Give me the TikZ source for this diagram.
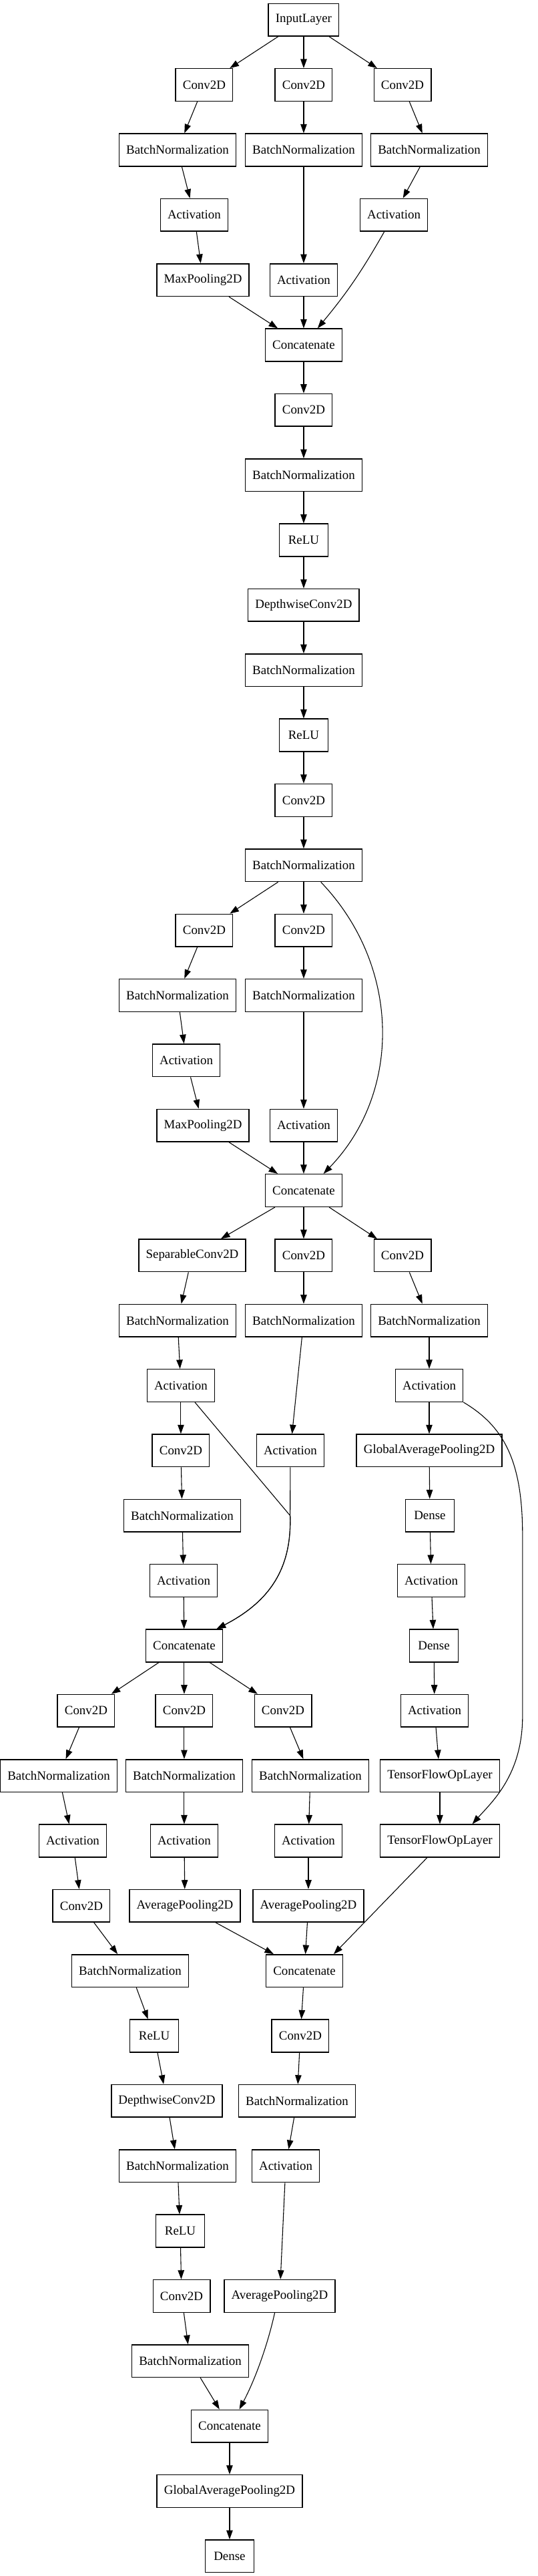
\documentclass[tikz,border=0pt]{standalone}
\usepackage{fontspec}
\setmainfont{Liberation Serif}
\usetikzlibrary{arrows.meta}

\tikzset{
  layer/.style={draw, line width=1.1pt, rectangle, minimum width=54pt, minimum height=36pt,
    inner xsep=7.9pt, inner ysep=0pt, font=\fontsize{14}{16.8}\selectfont},
  flow/.style={-{Triangle[length=10pt,width=7pt]}, line width=0.8pt},
}

\begin{document}
\begin{tikzpicture}[x=1pt,y=-1pt]
  \useasboundingbox (0,0) rectangle (596,2852);
  % stem block
  \node[layer] (inp) at (336.5,22) {InputLayer};
  \node[layer] (c1a) at (226.3,94) {Conv2D};
  \node[layer] (c1b) at (336.5,94) {Conv2D};
  \node[layer] (c1c) at (446,94) {Conv2D};
  \node[layer] (bn2a) at (196.7,166) {BatchNormalization};
  \node[layer] (bn2b) at (336.5,166) {BatchNormalization};
  \node[layer] (bn2c) at (475.6,166) {BatchNormalization};
  \node[layer] (act3a) at (215.2,238) {Activation};
  \node[layer] (act3c) at (436.4,238) {Activation};
  \node[layer] (mp4) at (224.9,310) {MaxPooling2D};
  \node[layer] (act4b) at (336.5,310) {Activation};
  \node[layer] (cat5) at (336.5,382) {Concatenate};
  % single column
  \node[layer] (c6) at (336.5,454) {Conv2D};
  \node[layer] (bn7) at (336.5,526) {BatchNormalization};
  \node[layer] (relu8) at (336.5,598) {ReLU};
  \node[layer] (dw9) at (336.5,670) {DepthwiseConv2D};
  \node[layer] (bn10) at (336.5,742) {BatchNormalization};
  \node[layer] (relu11) at (336.5,814) {ReLU};
  \node[layer] (c12) at (336.5,886) {Conv2D};
  \node[layer] (bn13) at (336.5,958) {BatchNormalization};
  % second block
  \node[layer] (c14a) at (226.3,1030) {Conv2D};
  \node[layer] (c14b) at (336.5,1030) {Conv2D};
  \node[layer] (bn15a) at (196.7,1102) {BatchNormalization};
  \node[layer] (bn15b) at (336.5,1102) {BatchNormalization};
  \node[layer] (act16a) at (206.4,1174) {Activation};
  \node[layer] (mp17) at (224.9,1246) {MaxPooling2D};
  \node[layer] (act17b) at (336.5,1246) {Activation};
  \node[layer] (cat18) at (336.5,1318) {Concatenate};
  % third block
  \node[layer] (sc19) at (213,1390) {SeparableConv2D};
  \node[layer] (c19b) at (336.5,1390) {Conv2D};
  \node[layer] (c19c) at (446,1390) {Conv2D};
  \node[layer] (bn20a) at (196.7,1462) {BatchNormalization};
  \node[layer] (bn20b) at (336.5,1462) {BatchNormalization};
  \node[layer] (bn20c) at (475.6,1462) {BatchNormalization};
  \node[layer] (act21a) at (200.4,1534) {Activation};
  \node[layer] (act21c) at (475.6,1534) {Activation};
  \node[layer] (c22a) at (200.4,1606) {Conv2D};
  \node[layer] (act22b) at (321.7,1606) {Activation};
  \node[layer] (gap22) at (475.6,1606) {GlobalAveragePooling2D};
  \node[layer] (bn23a) at (201.9,1678) {BatchNormalization};
  \node[layer] (d23) at (476.3,1678) {Dense};
  \node[layer] (act24a) at (203.4,1750) {Activation};
  \node[layer] (act24c) at (477.8,1750) {Activation};
  \node[layer] (cat25) at (204.1,1822) {Concatenate};
  \node[layer] (d25) at (480.8,1822) {Dense};
  \coordinate (j25) at (321.5,1678);
  % fourth block
  \node[layer] (c26a) at (95.4,1894) {Conv2D};
  \node[layer] (c26b) at (204.1,1894) {Conv2D};
  \node[layer] (c26c) at (313.6,1894) {Conv2D};
  \node[layer] (act26d) at (481.5,1894) {Activation};
  \node[layer] (bn27a) at (65.1,1966) {BatchNormalization};
  \node[layer] (bn27b) at (204.1,1966) {BatchNormalization};
  \node[layer] (bn27c) at (343.9,1966) {BatchNormalization};
  \node[layer] (tf27) at (487.4,1966) {TensorFlowOpLayer};
  \node[layer] (act28a) at (80.6,2038) {Activation};
  \node[layer] (act28b) at (204.1,2038) {Activation};
  \node[layer] (act28c) at (341.7,2038) {Activation};
  \node[layer] (tf28) at (487.4,2038) {TensorFlowOpLayer};
  \node[layer] (c29a) at (90.2,2110) {Conv2D};
  \node[layer] (ap29b) at (204.9,2110) {AveragePooling2D};
  \node[layer] (ap29c) at (341.7,2110) {AveragePooling2D};
  \node[layer] (bn30a) at (144.2,2182) {BatchNormalization};
  \node[layer] (cat30) at (337.3,2182) {Concatenate};
  \node[layer] (relu31) at (170.9,2254) {ReLU};
  \node[layer] (c31) at (332.8,2254) {Conv2D};
  \node[layer] (dw32) at (184.9,2326) {DepthwiseConv2D};
  \node[layer] (bn32) at (329.1,2326) {BatchNormalization};
  \node[layer] (bn33) at (196.7,2398) {BatchNormalization};
  \node[layer] (act33) at (316.6,2398) {Activation};
  \node[layer] (relu34) at (199.7,2470) {ReLU};
  \node[layer] (c35) at (201.2,2542) {Conv2D};
  \node[layer] (ap35) at (309.9,2542) {AveragePooling2D};
  \node[layer] (bn36) at (210.8,2614) {BatchNormalization};
  % head
  \node[layer] (cat37) at (254.4,2686) {Concatenate};
  \node[layer] (gap38) at (254.4,2758) {GlobalAveragePooling2D};
  \node[layer] (d39) at (254.4,2830) {Dense};

  % edges, stem
  \draw[flow] (inp) -- (c1a);
  \draw[flow] (inp) -- (c1b);
  \draw[flow] (inp) -- (c1c);
  \draw[flow] (c1a) -- (bn2a);
  \draw[flow] (c1b) -- (bn2b);
  \draw[flow] (c1c) -- (bn2c);
  \draw[flow] (bn2a) -- (act3a);
  \draw[flow] (bn2c) -- (act3c);
  \draw[flow] (act3a) -- (mp4);
  \draw[flow] (bn2b) -- (act4b);
  \draw[flow] (mp4) -- (cat5);
  \draw[flow] (act4b) -- (cat5);
  \draw[flow] (act3c) to[bend left=5] (cat5);
  \draw[flow] (cat5) -- (c6);
  \draw[flow] (c6) -- (bn7);
  \draw[flow] (bn7) -- (relu8);
  \draw[flow] (relu8) -- (dw9);
  \draw[flow] (dw9) -- (bn10);
  \draw[flow] (bn10) -- (relu11);
  \draw[flow] (relu11) -- (c12);
  \draw[flow] (c12) -- (bn13);
  % edges, second block
  \draw[flow] (bn13) -- (c14a);
  \draw[flow] (bn13) -- (c14b);
  \draw[flow] ([xshift=19pt]bn13.south) .. controls (445,1070) and (445,1210) .. ([xshift=22pt]cat18.north);
  \draw[flow] (c14a) -- (bn15a);
  \draw[flow] (c14b) -- (bn15b);
  \draw[flow] (bn15a) -- (act16a);
  \draw[flow] (act16a) -- (mp17);
  \draw[flow] (bn15b) -- (act17b);
  \draw[flow] (mp17) -- (cat18);
  \draw[flow] (act17b) -- (cat18);
  % edges, third block
  \draw[flow] (cat18) -- (sc19);
  \draw[flow] (cat18) -- (c19b);
  \draw[flow] (cat18) -- (c19c);
  \draw[flow] (sc19) -- (bn20a);
  \draw[flow] (c19b) -- (bn20b);
  \draw[flow] (c19c) -- (bn20c);
  \draw[flow] (bn20a) -- (act21a);
  \draw[flow] (bn20c) -- (act21c);
  \draw[flow] (act21a) -- (c22a);
  \draw[flow] (bn20b) -- (act22b);
  \draw[flow] (act21c) -- (gap22);
  \draw[flow] (c22a) -- (bn23a);
  \draw[flow] (gap22) -- (d23);
  \draw[flow] (bn23a) -- (act24a);
  \draw[flow] (d23) -- (act24c);
  \draw[flow] (act24a) -- (cat25);
  \draw[flow] (act21a) -- (j25) .. controls (323,1730) and (305,1770) .. (cat25);
  \draw[flow] (act22b) -- (j25) .. controls (323,1730) and (305,1770) .. (cat25);
  \draw[flow] (act24c) -- (d25);
  \draw[flow] (d25) -- (act26d);
  \draw[flow] (act26d) -- (tf27);
  \draw[flow] (tf27) -- (tf28);
  \draw[flow] (act21c.south east) .. controls (560,1580) and (579,1620) .. (579,1700)
    -- (579,1900) .. controls (579,1965) and (545,1995) .. ([xshift=36pt]tf28.north);
  % edges, fourth block
  \draw[flow] (cat25) -- (c26a);
  \draw[flow] (cat25) -- (c26b);
  \draw[flow] (cat25) -- (c26c);
  \draw[flow] (c26a) -- (bn27a);
  \draw[flow] (c26b) -- (bn27b);
  \draw[flow] (c26c) -- (bn27c);
  \draw[flow] (bn27a) -- (act28a);
  \draw[flow] (bn27b) -- (act28b);
  \draw[flow] (bn27c) -- (act28c);
  \draw[flow] (act28a) -- (c29a);
  \draw[flow] (act28b) -- (ap29b);
  \draw[flow] (act28c) -- (ap29c);
  \draw[flow] (c29a) -- (bn30a);
  \draw[flow] (ap29b) -- (cat30);
  \draw[flow] (ap29c) -- (cat30);
  \draw[flow] ([xshift=-14pt]tf28.south) -- ([xshift=32.5pt]cat30.north);
  \draw[flow] (bn30a) -- (relu31);
  \draw[flow] (relu31) -- (dw32);
  \draw[flow] (dw32) -- (bn33);
  \draw[flow] (bn33) -- (relu34);
  \draw[flow] (relu34) -- (c35);
  \draw[flow] (c35) -- (bn36);
  \draw[flow] (cat30) -- (c31);
  \draw[flow] (c31) -- (bn32);
  \draw[flow] (bn32) -- (act33);
  \draw[flow] (act33) -- (ap35);
  % edges, head
  \draw[flow] (bn36) -- (cat37);
  \draw[flow] ([xshift=-5.5pt]ap35.south) .. controls (298,2590) and (285,2630) .. ([xshift=10.8pt]cat37.north);
  \draw[flow] (cat37) -- (gap38);
  \draw[flow] (gap38) -- (d39);
\end{tikzpicture}
\end{document}
